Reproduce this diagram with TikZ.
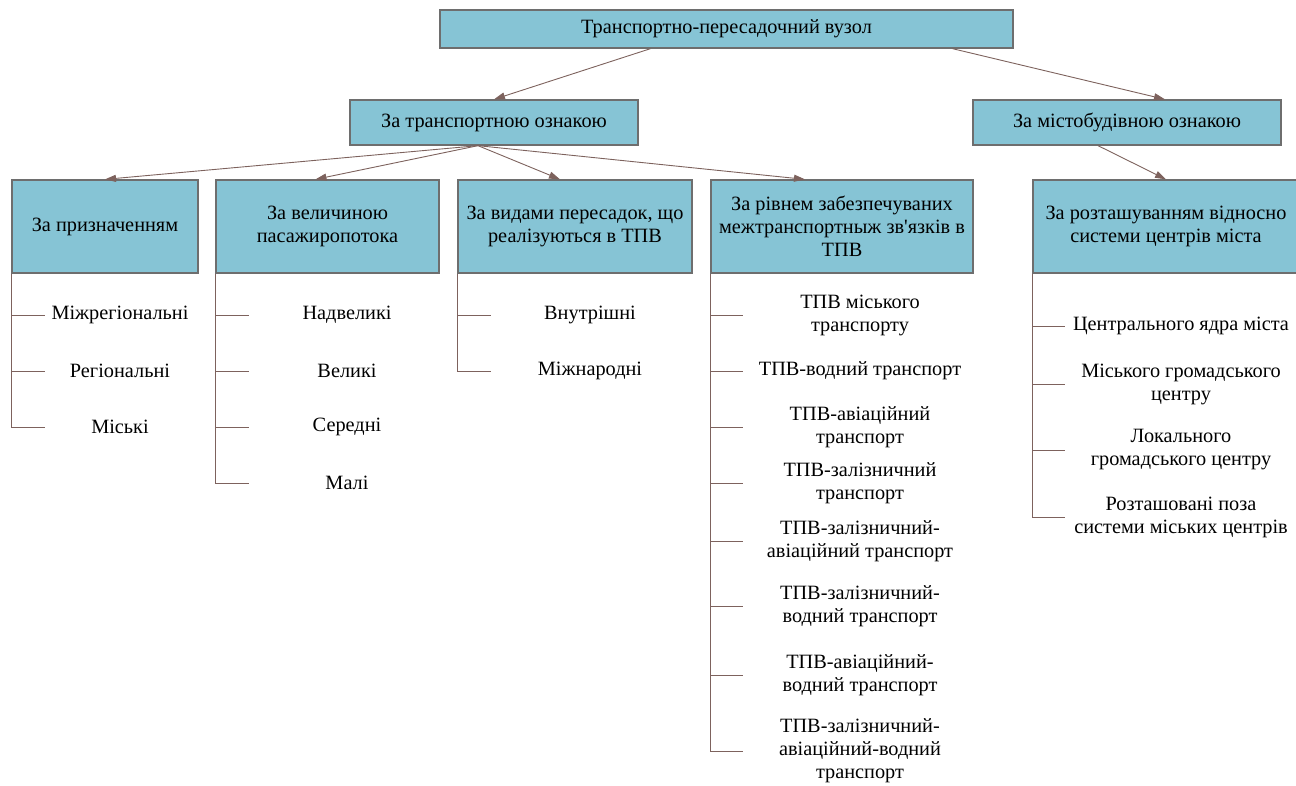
\documentclass[tikz,border=0pt]{standalone}
\usepackage{fontspec}
\setmainfont{Liberation Serif}
\usetikzlibrary{arrows.meta, positioning}
\definecolor{boxblue}{HTML}{86C4D5}
\definecolor{boxedge}{HTML}{6E6E6E}
\definecolor{linkbrown}{HTML}{7D625D}
\newcommand{\diagfont}{\fontsize{20.3pt}{23pt}\selectfont}

\begin{document}
\begin{tikzpicture}[
  x=1pt, y=-1pt,
  >={Triangle[length=11pt, width=7pt]},
  catbox/.style={
    draw=boxedge, line width=1.3pt, fill=boxblue,
    minimum width=#1, align=center, inner sep=2pt, font=\diagfont
  },
  link/.style={draw=linkbrown, line width=0.9pt},
  item/.style={font=\diagfont, align=center, inner sep=1pt},
]

\useasboundingbox (0,0) rectangle (1296,785);

% =============================================
% Top levels
% =============================================
\node[catbox=573pt, minimum height=38pt] (hub) at (726.5,29)
  {Транспортно-пересадочний вузол};
\node[catbox=288pt, minimum height=45pt] (transp) at (494,122.5)
  {За транспортною ознакою};
\node[catbox=308pt, minimum height=45pt] (urban) at (1127,122.5)
  {За містобудівною ознакою};

% =============================================
% Criteria boxes
% =============================================
\node[catbox=186pt, minimum height=93pt] (purpose) at (105,226.5)
  {За призначенням};
\node[catbox=223pt, minimum height=93pt] (flow) at (327.5,226.5)
  {За величиною\\пасажиропотока};
\node[catbox=234pt, minimum height=93pt] (transfer) at (575,226.5)
  {За видами пересадок, що\\реалізуються в ТПВ};
\node[catbox=262pt, minimum height=93pt] (links) at (842,226.5)
  {За рівнем забезпечуваних\\межтранспортныж зв\textquotesingle язків в\\ТПВ};
\node[catbox=266pt, minimum height=93pt] (place) at (1166,226.5)
  {За розташуванням відносно\\системи центрів міста};

% =============================================
% Arrows
% =============================================
\draw[link, ->] ([xshift=-76pt]hub.south) -- (transp.north);
\draw[link, ->] ([xshift=226pt]hub.south) -- ([xshift=38pt]urban.north);

\draw[link, ->] ([xshift=-16pt]transp.south) -- (purpose.north);
\draw[link, ->] ([xshift=-16pt]transp.south) -- ([xshift=-12pt]flow.north);
\draw[link, ->] ([xshift=-16pt]transp.south) -- ([xshift=-15pt]transfer.north);
\draw[link, ->] ([xshift=-16pt]transp.south) -- ([xshift=-37pt]links.north);

\draw[link, ->] ([xshift=-29pt]urban.south) -- (place.north);

% =============================================
% Item lists
% =============================================

% purpose
\foreach \y/\txt [count=\i] in {315/Міжрегіональні, 371/Регіональні, 427/Міські} {
  \coordinate (ta\i) at (45,\y);
  \draw[link] (purpose.south west |- ta\i) -- (ta\i);
  \node[item] (ia\i) at (120,\y) {\txt};
}
\draw[link] (purpose.south west) -- (purpose.south west |- ta3);

% passenger flow
\foreach \y/\txt [count=\i] in {315/Надвеликі, 371/Великі, 427/Середні, 483/Малі} {
  \coordinate (tb\i) at (249,\y);
  \draw[link] (flow.south west |- tb\i) -- (tb\i);
  \node[item] (ib\i) at (347,\y) {\txt};
}
\draw[link] (flow.south west) -- (flow.south west |- tb4);

% transfer kinds
\foreach \y/\txt [count=\i] in {315/Внутрішні, 371/Міжнародні} {
  \coordinate (tc\i) at (491,\y);
  \draw[link] (transfer.south west |- tc\i) -- (tc\i);
  \node[item] (ic\i) at (590,\y) {\txt};
}
\draw[link] (transfer.south west) -- (transfer.south west |- tc2);

% intermodal links
\foreach \y/\txt [count=\i] in {
    315/{ТПВ міського\\транспорту},
    371/{ТПВ-водний транспорт},
    427/{ТПВ-авіаційний\\транспорт},
    483/{ТПВ-залізничний\\транспорт},
    541/{ТПВ-залізничний-\\авіаційний транспорт},
    606/{ТПВ-залізничний-\\водний транспорт},
    675/{ТПВ-авіаційний-\\водний транспорт},
    751/{ТПВ-залізничний-\\авіаційний-водний\\транспорт}} {
  \coordinate (td\i) at (743,\y);
  \draw[link] (links.south west |- td\i) -- (td\i);
  \node[item] (id\i) at (860,\y) {\txt};
}
\draw[link] (links.south west) -- (links.south west |- td8);

% city centres
\foreach \y/\txt [count=\i] in {
    326/{Центрального ядра міста},
    384/{Міського громадського\\центру},
    450/{Локального\\громадського центру},
    517/{Розташовані поза\\системи міських центрів}} {
  \coordinate (te\i) at (1065,\y);
  \draw[link] (place.south west |- te\i) -- (te\i);
  \node[item] (ie\i) at (1181,\y) {\txt};
}
\draw[link] (place.south west) -- (place.south west |- te4);

\end{tikzpicture}
\end{document}
